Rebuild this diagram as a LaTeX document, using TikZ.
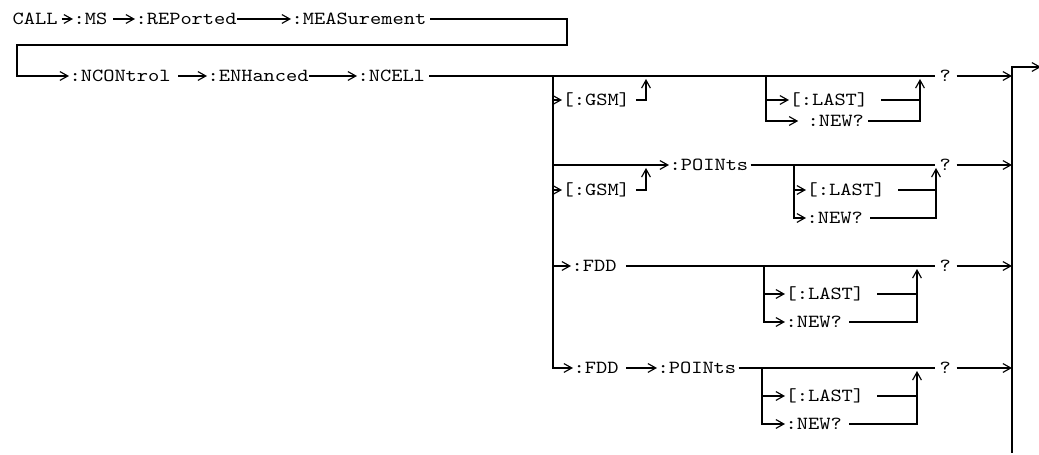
\documentclass[tikz,border=0pt]{standalone}
\usepackage{fontspec}
\setmonofont{lmmono10-regular.otf}[FakeStretch=1.16]
\usetikzlibrary{arrows.meta}

\begin{document}
\begin{tikzpicture}
  [x=0.02cm,y=-0.02cm,line width=0.65pt,
   every node/.style={font=\ttfamily\fontsize{10.5}{12}\selectfont,inner sep=0pt,
     text height=6.4pt,text depth=0pt,anchor=west},
   arr/.style={-{Straight Barb[length=4.5pt,width=5pt]}}]
  \useasboundingbox (0,0) rectangle (1039,455);

  % first line
  \node (call) at (12,19) {CALL};
  \node (ms) at (73,19) {:MS};
  \node (rep) at (135,19) {:REPorted};
  \node (meas) at (291,19) {:MEASurement};
  % second line
  \node (ncon) at (69,76) {:NCONtrol};
  \node (enh) at (207,76) {:ENHanced};
  \node (ncel) at (357,76) {:NCELl};

  \coordinate (turnA) at (567,45);
  \coordinate (turnB) at (17,45);

  \draw[arr] ([xshift=2pt]call.east) -- (ms.west);
  \draw[arr] ([xshift=3pt]ms.east) -- (rep.west);
  \draw[arr] (rep.east) -- (meas.west);
  \draw[arr] ([xshift=2pt]meas.east) -| (turnA) -- (turnB) |- (ncon.west);
  \draw[arr] ([xshift=4pt]ncon.east) -- (enh.west);
  \draw[arr] (enh.east) -- (ncel.west);

  % branches
  \coordinate (split) at (553,76);
  \coordinate (barTop) at (1012,67);
  \coordinate (barBot) at (1012,453);
  \coordinate (exit) at (1041,67);

  \node (qa) at (939,76) {?};
  \node (qb) at (939,165) {?};
  \node (qc) at (939,266) {?};
  \node (qd) at (939,368) {?};

  % [:GSM]
  \node (g1) at (562,100) {[:GSM]};
  \coordinate (ua1) at (646,79);
  \node (l1) at (789,100) {[:LAST]};
  \node (n1) at (807,121) {:NEW?};
  \coordinate (ba) at (766,76);
  \coordinate (ra) at (920,79);

  % [:GSM]:POINts
  \node (pts) at (669,165) {:POINts};
  \node (g2) at (562,190) {[:GSM]};
  \coordinate (ua2) at (646,168);
  \node (l2) at (806,190) {[:LAST]};
  \node (n2) at (806,218) {:NEW?};
  \coordinate (bb) at (794,165);
  \coordinate (rb) at (936,168);

  % :FDD
  \node (fdd) at (571,266) {:FDD};
  \node (l3) at (785,294) {[:LAST]};
  \node (n3) at (785,322) {:NEW?};
  \coordinate (bc) at (764,266);
  \coordinate (rc) at (917,269);

  % :FDD:POINts
  \node (fdd2) at (573,368) {:FDD};
  \node (pts2) at (657,368) {:POINts};
  \node (l4) at (785,396) {[:LAST]};
  \node (n4) at (785,424) {:NEW?};
  \coordinate (bd) at (762,368);
  \coordinate (rd) at (917,371);

  \draw ([xshift=2pt]ncel.east) -- ([xshift=-2pt]qa.west);
  \draw ([xshift=1pt]pts.east) -- ([xshift=-2pt]qb.west);
  \draw ([xshift=5pt]fdd.east) -- ([xshift=-2pt]qc.west);
  \draw ([xshift=1pt]pts2.east) -- ([xshift=-2pt]qd.west);

  \draw[arr] (split) |- (fdd2.west);
  \draw[arr] (split |- pts) -- (pts.west);
  \draw[arr] (split |- fdd) -- (fdd.west);
  \draw[arr] (split |- g1) -- (g1.west);
  \draw[arr] (split |- g2) -- (g2.west);
  \draw[arr] ([xshift=4pt]fdd2.east) -- (pts2.west);

  \draw[arr] ([xshift=3pt]g1.east) -| (ua1);
  \draw[arr] ([xshift=3pt]g2.east) -| (ua2);

  \draw[arr] (ba) |- (l1.west);
  \draw[arr] (ba) |- ([xshift=-5pt]n1.west);
  \draw ([xshift=7pt]l1.east) -- (l1 -| ra);
  \draw[arr] ([xshift=2pt]n1.east) -| (ra);

  \foreach \b/\l/\n/\r in {bb/l2/n2/rb, bc/l3/n3/rc, bd/l4/n4/rd} {
    \draw[arr] (\b) |- (\l.west);
    \draw[arr] (\b) |- (\n.west);
    \draw ([xshift=7pt]\l.east) -- (\l -| \r);
    \draw[arr] ([xshift=4pt]\n.east) -| (\r);
  }

  \foreach \q in {qa,qb,qc,qd}
    \draw[arr] ([xshift=3pt]\q.east) -- (\q -| barTop);
  \draw[arr] (barBot) -- (barTop) -- (exit);
\end{tikzpicture}
\end{document}
